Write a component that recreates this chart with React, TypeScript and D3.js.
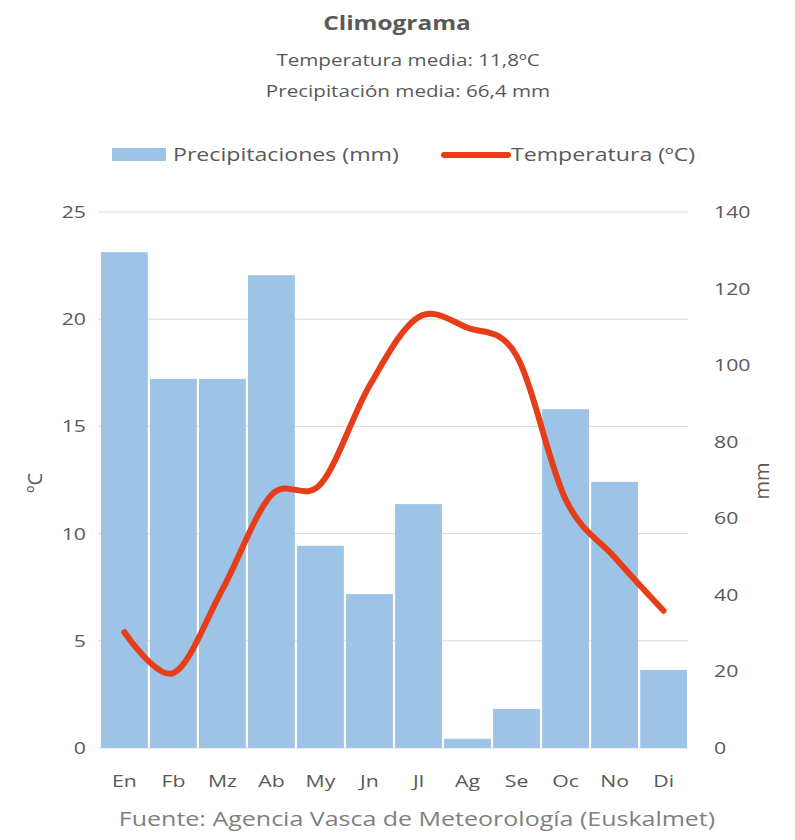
import React from 'react';
import * as d3 from 'd3';

const months = ['En', 'Fb', 'Mz', 'Ab', 'My', 'Jn', 'Jl', 'Ag', 'Se', 'Oc', 'No', 'Di'];
const precipitation = [129.5, 96.4, 96.4, 123.5, 52.8, 40.2, 63.7, 2.4, 10.2, 88.5, 69.5, 20.4];
const temperature = [5.4, 3.5, 7.4, 11.8, 12.3, 16.9, 20.1, 19.6, 18.3, 11.6, 8.9, 6.4];
const tempTicks = [0, 5, 10, 15, 20, 25];
const mmTicks = [0, 20, 40, 60, 80, 100, 120, 140];

const W = 795;
const H = 840;
const FONT = '"Open Sans", "Noto Sans", sans-serif';
const TEXT = '#595959';
const BAR = '#9DC3E6';
const LINE = '#E63E18';
const GRID = '#D9D9D9';
// the reference text is a bit wider than Open Sans at the same height
const SX = 1.25;

function Label({ x, y, size, anchor = 'start', weight = 'normal', fill = TEXT, children }: any) {
  return (
    <g transform={`translate(${x},${y}) scale(${SX},1)`}>
      <text textAnchor={anchor} fontSize={size} fontWeight={weight} fill={fill}>{children}</text>
    </g>
  );
}

export default function App() {
  const margin = { top: 212, right: 107, bottom: 92, left: 100 };
  const plotBottom = H - margin.bottom;
  const plotRight = W - margin.right;

  const x = d3.scaleBand<string>()
    .domain(months)
    .range([margin.left, plotRight])
    .paddingInner(0.045)
    .paddingOuter(0.02);

  const yTemp = d3.scaleLinear().domain([0, 25]).range([plotBottom, margin.top]);
  const yMm = d3.scaleLinear().domain([0, 140]).range([plotBottom, margin.top]);

  const line = d3.line<number>()
    .x((d, i) => (x(months[i]) as number) + x.bandwidth() / 2)
    .y(d => yTemp(d))
    .curve(d3.curveCardinal.tension(0));

  return (
    <svg width={W} height={H} style={{ position: 'absolute', left: 0, top: 0, background: '#fff' }}
      fontFamily={FONT}>
      <rect width={W} height={H} fill="#fff" />

      {/* titles */}
      <Label x={397} y={30} size={19.5} anchor="middle" weight="bold">Climograma</Label>
      <Label x={408} y={66} size={16.5} anchor="middle">Temperatura media: 11,8ºC</Label>
      <Label x={408} y={97} size={16.5} anchor="middle">Precipitación media: 66,4 mm</Label>

      {/* legend */}
      <rect x={112} y={148} width={54} height={13} fill={BAR} />
      <Label x={173} y={161} size={18.5}>Precipitaciones (mm)</Label>
      <line x1={444} x2={508} y1={155} y2={155} stroke={LINE} strokeWidth={6} strokeLinecap="round" />
      <Label x={511} y={161} size={18.5}>Temperatura (ºC)</Label>

      {/* gridlines */}
      {tempTicks.map(t => (
        <line key={t} x1={98} x2={688} y1={yTemp(t)} y2={yTemp(t)} stroke={GRID} strokeWidth={1} />
      ))}

      {/* bars */}
      {precipitation.map((v, i) => (
        <rect key={months[i]} x={x(months[i])} y={yMm(v)} width={x.bandwidth()}
          height={plotBottom - yMm(v)} fill={BAR} />
      ))}

      {/* temperature line */}
      <path d={line(temperature) || ''} fill="none" stroke={LINE} strokeWidth={6}
        strokeLinecap="round" strokeLinejoin="round" />

      {/* left axis */}
      {tempTicks.map(t => (
        <Label key={t} x={86} y={yTemp(t) + 6} size={17} anchor="end">{t}</Label>
      ))}
      <text transform={`translate(42, 483) rotate(-90)`} textAnchor="middle" fontSize={20} fill={TEXT}>ºC</text>

      {/* right axis */}
      {mmTicks.map(t => (
        <Label key={t} x={714} y={yMm(t) + 6} size={17}>{t}</Label>
      ))}
      <text transform={`translate(769, 481) rotate(-90)`} textAnchor="middle" fontSize={20} fill={TEXT}>mm</text>

      {/* categories */}
      {months.map(m => (
        <Label key={m} x={(x(m) as number) + x.bandwidth() / 2} y={787} size={17} anchor="middle">{m}</Label>
      ))}

      <Label x={417} y={826} size={20} anchor="middle" fill="#7F7F7F">
        Fuente: Agencia Vasca de Meteorología (Euskalmet)
      </Label>
    </svg>
  );
}
